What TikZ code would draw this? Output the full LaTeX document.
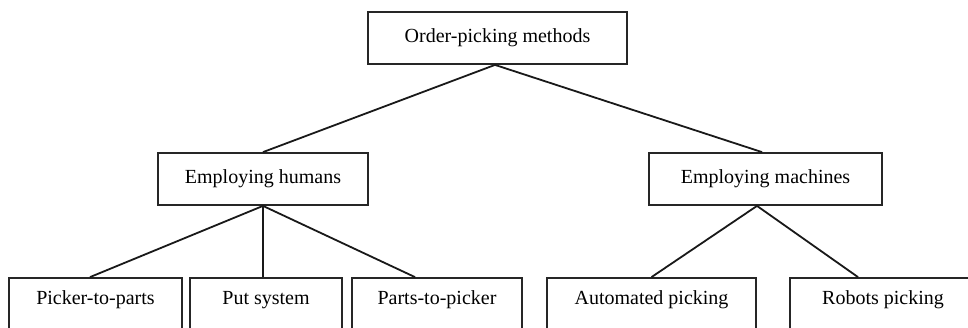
\documentclass[tikz,border=0pt]{standalone}
\usepackage{fontspec}
\setmainfont{Liberation Serif}
\begin{document}
\begin{tikzpicture}[x=1pt,y=-1pt,
  box/.style={draw=black!85, line width=1.8pt, fill=white, minimum height=52pt, inner sep=0pt,
    font=\fontsize{20}{24}\selectfont},
  conn/.style={line width=1.8pt, draw=black!90}]
\useasboundingbox (0,0) rectangle (968,327);
\fill[white] (0,0) rectangle (968,327);
\clip (0,0) rectangle (968,327);
\node[box, minimum width=259pt] (top) at (497.5,38) {Order-picking methods};
\node[box, minimum width=210pt] (hum) at (263,179) {Employing humans};
\node[box, minimum width=233pt] (mac) at (765.5,179) {Employing machines};
\node[box, minimum width=173pt, text depth=13pt, text height=13pt] (pp) at (95.5,304) {Picker-to-parts};
\node[box, minimum width=152pt, text depth=13pt, text height=13pt] (put) at (266,304) {Put system};
\node[box, minimum width=170pt, text depth=13pt, text height=13pt] (ptp) at (437,304) {Parts-to-picker};
\node[box, minimum width=209pt, text depth=13pt, text height=13pt] (aut) at (651.5,304) {Automated picking};
\node[box, minimum width=300pt, text depth=13pt, text height=13pt] (rob) at (940,304) {Robots picking\hspace*{114pt}};
\draw[conn] ([xshift=-2.5pt]top.south) -- (hum.north);
\draw[conn] ([xshift=-2.5pt]top.south) -- ([xshift=-3.5pt]mac.north);
\draw[conn] (hum.south) -- ([xshift=-5.5pt]pp.north);
\draw[conn] (hum.south) -- ([xshift=-3pt]put.north);
\draw[conn] (hum.south) -- ([xshift=-22pt]ptp.north);
\draw[conn] ([xshift=-8.5pt]mac.south) -- (aut.north);
\draw[conn] ([xshift=-8.5pt]mac.south) -- ([xshift=-82pt]rob.north);
\end{tikzpicture}
\end{document}
